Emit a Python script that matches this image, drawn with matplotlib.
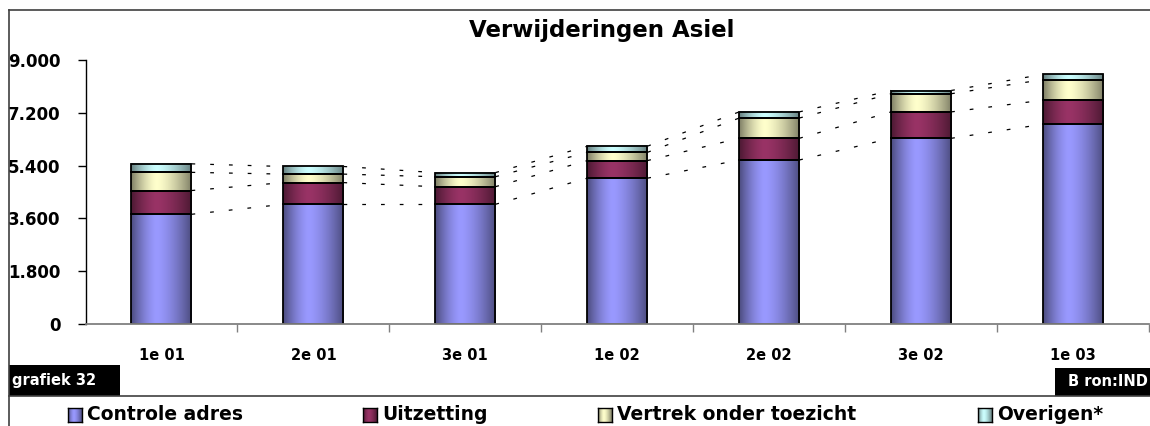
import matplotlib.pyplot as plt
import numpy as np
from matplotlib.colors import to_rgb
from matplotlib.lines import Line2D
from matplotlib.patches import Rectangle

quarters = ['1e 01', '2e 01', '3e 01', '1e 02', '2e 02', '3e 02', '1e 03']
controle = [3740, 4080, 4080, 4970, 5590, 6330, 6810]
uitzetting = [810, 740, 600, 600, 740, 900, 820]
vertrek = [620, 290, 340, 280, 690, 620, 700]
overigen = [290, 260, 140, 210, 210, 110, 180]

series_names = ['Controle adres', 'Uitzetting', 'Vertrek onder toezicht', 'Overigen*']
series_colors = ['#9999FF', '#993366', '#FFFFCC', '#CCFFFF']
yticks = [0, 1800, 3600, 5400, 7200, 9000]

W, H = 1150, 426


def shade(color, n=64):
    # horizontal "cylinder" gradient: dark edges, bright just left of centre
    t = np.linspace(0, 1, n)
    peak = 0.42
    d = np.where(t < peak, (peak - t) / peak, (t - peak) / (1 - peak))
    f = 1 - 0.5 * d ** 1.5
    rgb = np.array(to_rgb(color))
    return (f[:, None] * rgb)[None, :, :]


def fx(px):
    return px / W


def fy(py):
    return 1 - py / H


fig = plt.figure(figsize=(W / 100, H / 100), dpi=100)
ax = fig.add_axes([fx(85.5), fy(324), fx(1149) - fx(85.5), fy(60) - fy(324)])

x = np.arange(len(quarters))
width = 0.395
layers = [controle, uitzetting, vertrek, overigen]
bottom = np.zeros(len(quarters))
tops = []
for vals, col in zip(layers, series_colors):
    vals = np.array(vals, dtype=float)
    for i in range(len(x)):
        ax.imshow(shade(col), extent=[x[i] - width / 2, x[i] + width / 2, bottom[i], bottom[i] + vals[i]],
                  aspect='auto', interpolation='bilinear', zorder=2)
    ax.bar(x, vals, width, bottom=bottom, fill=False, edgecolor='black', linewidth=1.3, zorder=3)
    bottom = bottom + vals
    tops.append(bottom.copy())

# series lines between adjacent bars
for top in tops:
    for i in range(len(x) - 1):
        ax.plot([x[i] + width / 2, x[i + 1] - width / 2], [top[i], top[i + 1]],
                color='black', linewidth=0.9, linestyle=(0, (3, 12)), zorder=1)

ax.set_xlim(-0.5, len(x) - 0.5)
ax.set_ylim(0, 9000)

for s in ['top', 'right']:
    ax.spines[s].set_visible(False)
ax.spines['left'].set_color('black')
ax.spines['left'].set_linewidth(1.0)
ax.spines['bottom'].set_color('#808080')
ax.spines['bottom'].set_linewidth(1.3)
ax.spines['bottom'].set_zorder(4)

ax.set_yticks(yticks)
ax.set_yticklabels([f"{v:,}".replace(',', '.') for v in yticks])
ax.tick_params(axis='y', length=6, width=1, direction='out', pad=12, labelsize=12)
for lab in ax.get_yticklabels():
    lab.set_fontweight('bold')

ax.set_xticks(x + 0.5)
ax.set_xticklabels([])
ax.set_xticks(x, minor=True)
ax.set_xticklabels(quarters, minor=True, fontsize=10.5, fontweight='bold')
ax.tick_params(axis='x', which='major', length=6, width=1, color='#808080', direction='out')
ax.tick_params(axis='x', which='minor', length=0, pad=17)

fig.text(fx(602), fy(31), 'Verwijderingen Asiel', ha='center', va='center',
         fontsize=16.5, fontweight='bold')

# outer frame and bottom separator
line_col = '#404040'
fig.add_artist(Line2D([fx(8.5), 1], [fy(10), fy(10)], transform=fig.transFigure, color=line_col, lw=1.2))
fig.add_artist(Line2D([fx(8.5), fx(8.5)], [fy(10), 0], transform=fig.transFigure, color=line_col, lw=1.2))
fig.add_artist(Line2D([fx(8.5), 1], [fy(396), fy(396)], transform=fig.transFigure, color=line_col, lw=1.2))

# black label boxes
fig.add_artist(Rectangle((fx(9), fy(396)), fx(120) - fx(9), fy(365) - fy(396),
                         transform=fig.transFigure, facecolor='black', edgecolor='none'))
fig.text(fx(12), fy(381), 'grafiek 32', ha='left', va='center', color='white',
         fontsize=10.5, fontweight='bold')
fig.add_artist(Rectangle((fx(1055), fy(396)), 1 - fx(1055), fy(368) - fy(396),
                         transform=fig.transFigure, facecolor='black', edgecolor='none'))
fig.text(fx(1148), fy(382), 'B ron:IND', ha='right', va='center', color='white',
         fontsize=10.5, fontweight='bold')

# legend
legend_x = [68, 363, 598, 978]
for lx, name, col in zip(legend_x, series_names, series_colors):
    lax = fig.add_axes([fx(lx), fy(422), fx(14), fy(408) - fy(422)])
    lax.imshow(shade(col), aspect='auto', interpolation='bilinear')
    lax.set_xticks([])
    lax.set_yticks([])
    for sp in lax.spines.values():
        sp.set_color('black')
        sp.set_linewidth(1.0)
    fig.text(fx(lx + 19), fy(414), name, ha='left', va='center', fontsize=13.5, fontweight='bold')

fig.savefig('out.png', dpi=100)
